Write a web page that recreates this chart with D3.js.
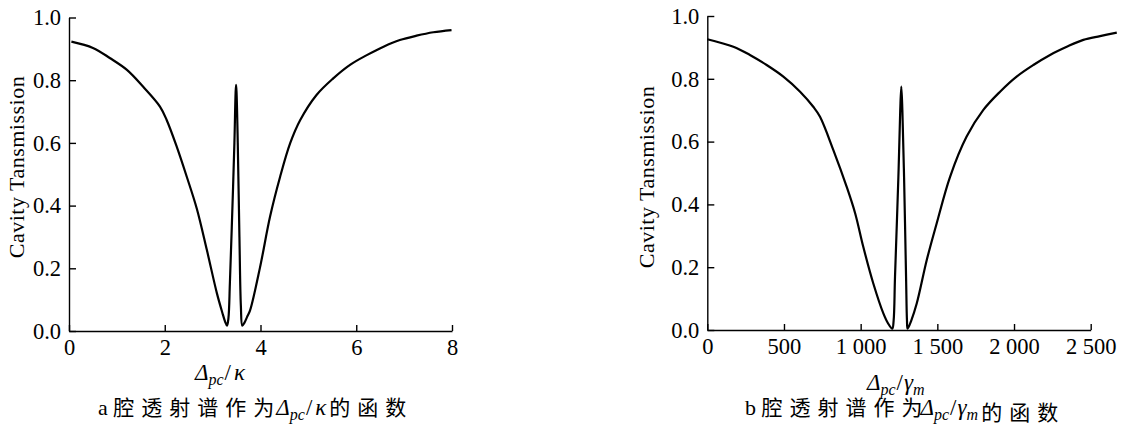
<!DOCTYPE html>
<meta charset="utf-8">
<script src="https://d3js.org/d3.v7.min.js"></script>
<style>
body { margin: 0; background: #fff; }
svg text { font-family: "Liberation Serif", "Times New Roman", serif; fill: #000; }
.axis path, .axis line { stroke: #000; stroke-width: 1.4px; }
.curve { fill: none; stroke: #000; stroke-width: 2.2px; stroke-linejoin: round; }
.cjk { font-family: "Noto Sans CJK SC", sans-serif; }
</style>
<svg id="chart" width="1134" height="429"></svg>
<script>
// panel a: transmission vs detuning / kappa
var detuningKappa = [0.05, 0.5, 0.86, 1.21, 1.55, 1.9, 2.04, 2.25, 2.46, 2.67, 2.88, 3.09, 3.2, 3.26, 3.3,
  3.33, 3.36, 3.4, 3.455, 3.48, 3.49, 3.5, 3.525, 3.56, 3.59, 3.62, 3.66, 3.72, 3.78, 3.99, 4.2, 4.41,
  4.62, 4.83, 5.17, 5.52, 5.87, 6.22, 6.57, 6.91, 7.26, 7.61, 7.99];
var transA = [0.923, 0.903, 0.870, 0.833, 0.779, 0.716, 0.673, 0.588, 0.492, 0.39, 0.258, 0.12, 0.06, 0.03, 0.017,
  0.04, 0.15, 0.33, 0.60, 0.76, 0.785, 0.76, 0.60, 0.30, 0.08, 0.017, 0.025, 0.045, 0.065, 0.203, 0.365, 0.492,
  0.599, 0.673, 0.753, 0.806, 0.849, 0.880, 0.907, 0.928, 0.942, 0.953, 0.960];

// panel b: transmission vs detuning / gamma_m
var detuningGamma = [0, 170, 278, 387, 496, 605, 691, 735, 822, 909, 964, 1017, 1082, 1148, 1180, 1206,
  1215, 1224, 1246, 1258, 1265, 1272, 1283, 1296, 1302, 1306, 1330, 1366, 1431, 1496, 1583, 1691, 1800,
  1909, 2017, 2126, 2235, 2344, 2452, 2561, 2670];
var transB = [0.926, 0.902, 0.876, 0.844, 0.807, 0.759, 0.711, 0.679, 0.573, 0.456, 0.372, 0.265, 0.149, 0.053, 0.02, 0.004,
  0.03, 0.17, 0.488, 0.70, 0.775, 0.70, 0.488, 0.17, 0.03, 0.004, 0.03, 0.085, 0.223, 0.340, 0.488, 0.616, 0.701,
  0.759, 0.807, 0.844, 0.876, 0.902, 0.924, 0.936, 0.947];

var ticksA = [0, 2, 4, 6, 8];
var ticksB = [0, 500, 1000, 1500, 2000, 2500];
var ticksY = [0, 0.2, 0.4, 0.6, 0.8, 1.0];
var yTitle = "Cavity Tansmission";

var svg = d3.select("#chart");

function mathText(sel, parts) {
  // parts: [text, italic, subscript, dx]
  var shift = 0;
  parts.forEach(function(p) {
    var dy = (p[2] ? 5 : 0) - shift;
    shift = p[2] ? 5 : 0;
    var t = sel.append("tspan").attr("dy", dy).text(p[0]);
    if (p[1]) t.attr("font-style", "italic");
    t.attr("font-size", p[2] ? 16 : 23);
    if (p[3]) t.attr("dx", p[3]);
  });
}

function serifTicks(g) {
  g.selectAll("text")
    .style("font-family", "'Liberation Serif', 'Times New Roman', serif")
    .style("font-size", "22.5px")
    .style("fill", "#000");
}

function panel(o) {
  var x = d3.scaleLinear().domain(o.xDomain).range([o.left, o.right]);
  var y = d3.scaleLinear().domain([0, 1]).range([o.bottom, o.top]);

  svg.append("g")
    .attr("class", "axis")
    .attr("transform", "translate(0," + o.bottom + ")")
    .call(d3.axisBottom(x).tickValues(o.xTicks).tickSizeInner(-6).tickSizeOuter(0)
      .tickPadding(8).tickFormat(o.xFormat))
    .call(serifTicks);

  svg.append("g")
    .attr("class", "axis")
    .attr("transform", "translate(" + o.left + ",0)")
    .call(d3.axisLeft(y).tickValues(ticksY).tickSizeInner(-7).tickSizeOuter(0)
      .tickPadding(8).tickFormat(d3.format(".1f")))
    .call(serifTicks);

  var line = d3.line()
    .x(function(d) { return x(d[0]); })
    .y(function(d) { return y(d[1]); })
    .curve(d3.curveCatmullRom.alpha(0.5));

  svg.append("path")
    .attr("class", "curve")
    .attr("d", line(d3.zip(o.xs, o.ys)));

  svg.append("text")
    .attr("transform", "translate(" + o.yTitleX + "," + o.yTitleY + ") rotate(-90)")
    .attr("text-anchor", "middle")
    .attr("font-size", 22)
    .attr("letter-spacing", 0.5)
    .text(yTitle);

  var xt = svg.append("text")
    .attr("x", o.xTitleX).attr("y", o.xTitleY);
  mathText(xt, o.math);

  var cap = svg.append("text")
    .attr("x", o.capX).attr("y", 415)
    .attr("font-size", 22);
  cap.append("tspan").text(o.letter + " ");
  cap.append("tspan").attr("class", "cjk").attr("font-size", 21).attr("letter-spacing", 7)
    .text("腔透射谱作为");
  mathText(cap, o.math.map(function(p, i) { return i === 0 ? [p[0], p[1], p[2], o.capMathDx] : p; }));
  cap.append("tspan").attr("class", "cjk").attr("font-size", 21).attr("letter-spacing", 7)
    .attr("dx", 3).text("的函数");
}

panel({
  xDomain: [0, 8], left: 69, right: 452, top: 17.5, bottom: 331,
  xTicks: ticksA, xFormat: d3.format("d"),
  xs: detuningKappa, ys: transA,
  yTitleX: 24, yTitleY: 167,
  xTitleX: 195, xTitleY: 380,
  math: [["Δ", true, false], ["pc", true, true], ["/", false, false, 1], ["κ", true, false, 3]],
  letter: "a", capX: 98, capMathDx: -5
});

panel({
  xDomain: [0, 2500], left: 707.3, right: 1090.7, top: 16, bottom: 330,
  xTicks: ticksB,
  xFormat: function(d) { return d >= 1000 ? Math.floor(d / 1000) + " " + d3.format("03d")(d % 1000) : d; },
  xs: detuningGamma, ys: transB,
  yTitleX: 654, yTitleY: 177,
  xTitleX: 867, xTitleY: 390,
  math: [["Δ", true, false], ["pc", true, true], ["/", false, false, 1], ["γ", true, false, 1], ["m", true, true]],
  letter: "b", capX: 745, capMathDx: -9
});
</script>
